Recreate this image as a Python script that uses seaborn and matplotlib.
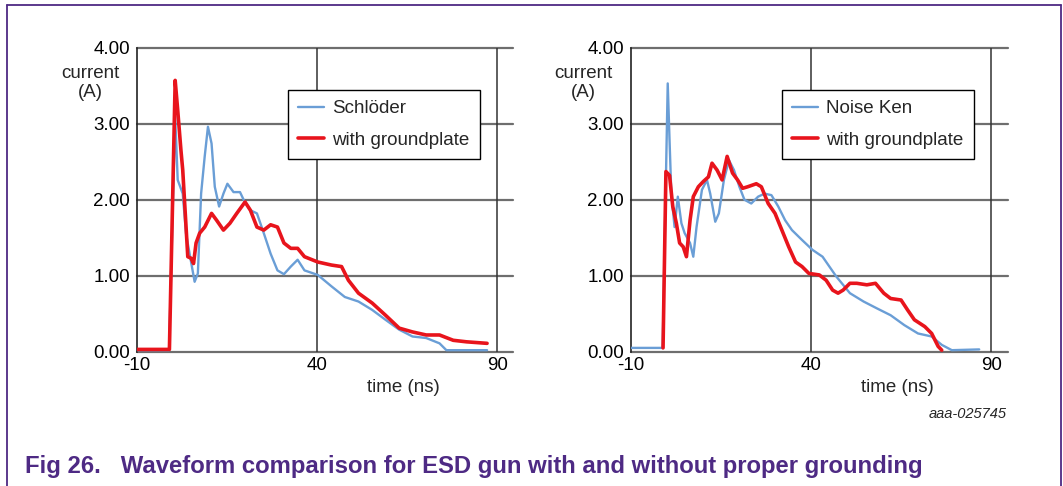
import numpy as np
import pandas as pd
import matplotlib
matplotlib.use("Agg")
import matplotlib.pyplot as plt
from matplotlib.lines import Line2D
import seaborn as sns

# ---------------- data ----------------
left_blue_label = "Schlöder"
left_blue_t = [-10, -1.1, 0.6, 1.3, 2.7, 3.6, 4.6, 6.0, 6.9, 7.8, 8.8, 9.7, 10.7, 11.6, 12.8,
               14.0, 15.1, 16.8, 18.6, 19.6, 21.5, 23.3, 25.2, 27.1, 29.0, 30.8, 32.7, 34.6,
               36.5, 40.2, 44.0, 47.7, 51.5, 55.3, 59.0, 62.8, 66.5, 70.3, 74.0, 75.9, 87.2]
left_blue_i = [0.02, 0.02, 3.1, 2.26, 2.08, 1.56, 1.29, 0.92, 1.03, 2.08, 2.57, 2.96, 2.74, 2.17,
               1.91, 2.08, 2.21, 2.1, 2.1, 2.0, 1.86, 1.82, 1.56, 1.29, 1.07, 1.02, 1.12, 1.21,
               1.07, 1.01, 0.86, 0.72, 0.66, 0.55, 0.42, 0.29, 0.2, 0.18, 0.11, 0.02, 0.02]

left_red_label = "with groundplate"
left_red_t = [-10, -1.0, 0.6, 1.3, 2.2, 2.7, 3.4, 4.1, 5.0, 5.7, 6.4, 7.4, 8.8, 10.7, 12.1, 14.0,
              15.8, 17.7, 20.0, 21.5, 23.3, 25.2, 27.1, 29.0, 30.8, 32.7, 34.6, 36.5, 40.2,
              44.0, 46.8, 48.7, 51.5, 55.3, 59.0, 62.8, 66.5, 70.3, 74.0, 77.8, 81.5, 87.2]
left_red_i = [0.03, 0.03, 3.57, 3.18, 2.65, 2.39, 1.82, 1.25, 1.23, 1.16, 1.43, 1.56, 1.64, 1.82,
              1.73, 1.6, 1.69, 1.82, 1.97, 1.86, 1.64, 1.6, 1.67, 1.64, 1.43, 1.36, 1.36, 1.25,
              1.18, 1.14, 1.12, 0.94, 0.77, 0.64, 0.48, 0.31, 0.26, 0.22, 0.22, 0.15, 0.13, 0.11]

right_blue_label = "Noise Ken"
right_blue_t = [-10, -1.2, 0.2, 0.7, 1.2, 2.1, 3.0, 4.0, 4.9, 6.4, 7.3, 8.2, 9.7, 11.1, 12.0,
                13.4, 14.4, 15.8, 17.2, 18.6, 20.1, 21.5, 23.4, 25.3, 27.1, 29.0, 30.9, 32.8,
                34.7, 37.5, 40.4, 43.2, 47.0, 50.8, 54.6, 58.3, 62.1, 65.9, 69.7, 73.5, 76.3,
                79.1, 86.7]
right_blue_i = [0.05, 0.05, 3.53, 2.79, 2.08, 1.64, 2.04, 1.69, 1.56, 1.43, 1.25, 1.64, 2.13,
                2.26, 2.08, 1.71, 1.82, 2.26, 2.52, 2.39, 2.17, 2.0, 1.95, 2.04, 2.08, 2.06,
                1.91, 1.73, 1.6, 1.47, 1.34, 1.25, 0.99, 0.77, 0.66, 0.57, 0.48, 0.35, 0.24,
                0.2, 0.09, 0.02, 0.03]

right_red_label = "with groundplate"
right_red_t = [-1.1, -0.3, 0.7, 1.6, 2.6, 3.5, 4.5, 5.4, 6.4, 7.3, 8.7, 10.1, 11.5, 12.5, 13.9,
               15.3, 16.7, 18.2, 19.6, 21.0, 22.4, 24.8, 26.2, 28.1, 30.0, 31.9, 33.8, 35.7,
               37.5, 39.4, 42.3, 44.2, 46.0, 47.5, 48.9, 50.8, 52.7, 55.5, 57.9, 60.2, 62.1,
               65.0, 66.8, 68.7, 71.6, 73.5, 75.3, 76.3]
right_red_i = [0.05, 2.37, 2.32, 1.91, 1.69, 1.43, 1.38, 1.25, 1.73, 2.04, 2.17, 2.24, 2.3, 2.48,
               2.39, 2.26, 2.57, 2.35, 2.26, 2.15, 2.17, 2.21, 2.17, 1.95, 1.82, 1.6, 1.38, 1.18,
               1.12, 1.03, 1.01, 0.94, 0.81, 0.77, 0.81, 0.9, 0.9, 0.88, 0.9, 0.77, 0.7, 0.68,
               0.55, 0.42, 0.33, 0.24, 0.07, 0.02]

y_ticks = [0, 1, 2, 3, 4]
y_tick_labels = ["0.00", "1.00", "2.00", "3.00", "4.00"]
x_ticks = [-10, 40, 90]
x_tick_labels = ["-10", "40", "90"]

caption = "Fig 26.   Waveform comparison for ESD gun with and without proper grounding"
fig_id = "aaa-025745"

# ---------------- style ----------------
sns.set_theme(style="white")
plt.rcParams['font.family'] = ['Liberation Sans', 'DejaVu Sans']

W, H = 1063, 486
fig = plt.figure(figsize=(W / 100, H / 100), dpi=100)

BLUE = "#6a9ed6"
RED = "#e8141c"
PURPLE = "#4e2a84"
FS = 13.5


def px_rect(x0, y0, x1, y1):
    return [x0 / W, 1 - y1 / H, (x1 - x0) / W, (y1 - y0) / H]


panels = [
    dict(rect=px_rect(137, 47.7, 513, 351.7), xmax=94.4,
         blue=(left_blue_t, left_blue_i, left_blue_label),
         red=(left_red_t, left_red_i, left_red_label),
         leg=(288, 90), cur_x=90, time_x=403),
    dict(rect=px_rect(631, 47.7, 1008, 351.7), xmax=94.7,
         blue=(right_blue_t, right_blue_i, right_blue_label),
         red=(right_red_t, right_red_i, right_red_label),
         leg=(782, 90), cur_x=583, time_x=897),
]

for p in panels:
    ax = fig.add_axes(p["rect"])
    bt, bi, bl = p["blue"]
    rt, ri, rl = p["red"]
    dfb = pd.DataFrame({"t": bt, "I": bi})
    dfr = pd.DataFrame({"t": rt, "I": ri})
    sns.lineplot(data=dfb, x="t", y="I", ax=ax, color=BLUE, lw=1.7, label=bl,
                 sort=False, estimator=None, zorder=3)
    sns.lineplot(data=dfr, x="t", y="I", ax=ax, color=RED, lw=2.6, label=rl,
                 sort=False, estimator=None, zorder=4)
    ax.set_xlim(-10, p["xmax"])
    ax.set_ylim(0, 4)
    ax.set_xlabel("")
    ax.set_ylabel("")
    ax.set_xticks(x_ticks)
    ax.set_xticklabels(x_tick_labels)
    ax.set_yticks(y_ticks)
    ax.set_yticklabels(y_tick_labels)
    ax.tick_params(axis="both", length=0, labelsize=FS, colors="black")
    ax.tick_params(axis="y", pad=5)
    ax.tick_params(axis="x", pad=4)
    for s in ["top", "right", "bottom"]:
        ax.spines[s].set_visible(False)
    ax.spines["left"].set_color("#222222")
    ax.spines["left"].set_linewidth(1.2)
    for yv in y_ticks:
        ax.axhline(yv, color="#6e6e6e", lw=1.6, zorder=1, clip_on=False)
    for xv in [40, 90]:
        ax.axvline(xv, color="#333333", lw=1.1, zorder=1)
    ax.set_facecolor("white")

    lx, ly = p["leg"]
    leg = ax.legend(loc="upper left", bbox_to_anchor=(lx / W, 1 - ly / H),
                    bbox_transform=fig.transFigure, borderaxespad=0,
                    fontsize=FS, frameon=True, fancybox=False, edgecolor="black",
                    framealpha=1, handlelength=1.35, handletextpad=0.45,
                    labelspacing=0.75, borderpad=0.55)
    leg.get_frame().set_linewidth(1.0)
    leg.set_zorder(10)

    fig.text(p["cur_x"] / W, 1 - 83 / H, "current\n(A)", ha="center", va="center",
             fontsize=FS, linespacing=1.2)
    fig.text(p["time_x"] / W, 1 - 387 / H, "time (ns)", ha="center", va="center",
             fontsize=FS)

fig.text(1007 / W, 1 - 414 / H, fig_id, ha="right", va="center", fontsize=10.5,
         style="italic")
fig.text(25 / W, 1 - 473 / H, caption, ha="left", va="baseline", fontsize=17.2,
         fontweight="bold", color=PURPLE)

# border
bx0, by0, bx1 = 7.3 / W, 1 - 5.3 / H, 1061 / W
for xs, ys in [([bx0, bx1], [by0, by0]), ([bx0, bx0], [by0, 0]), ([bx1, bx1], [by0, 0])]:
    fig.add_artist(Line2D(xs, ys, transform=fig.transFigure, color=PURPLE, lw=1.3))

fig.savefig("out.png", dpi=100, facecolor="white")
